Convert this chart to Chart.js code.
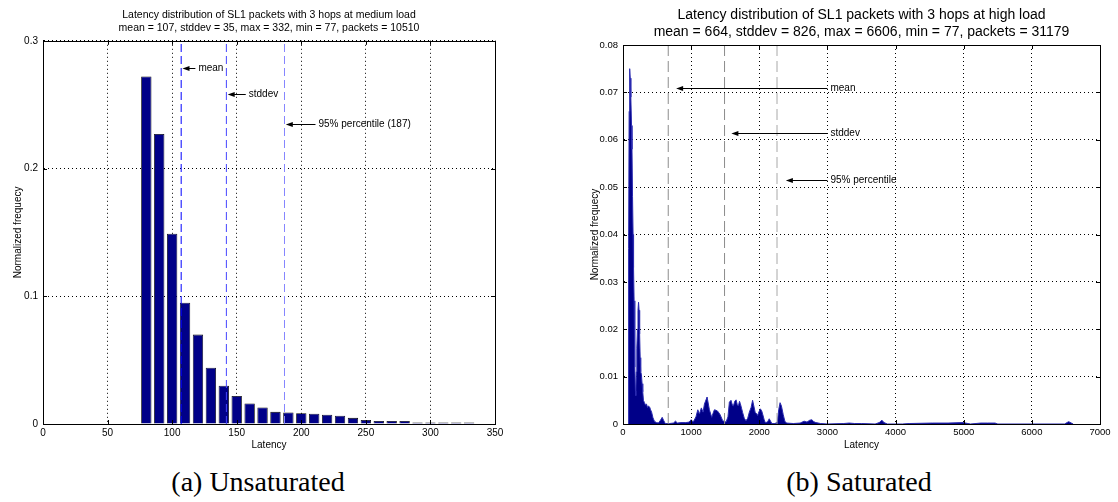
<!DOCTYPE html>
<html>
<head>
<meta charset="utf-8">
<script src="https://cdn.jsdelivr.net/npm/chart.js@4.4.1/dist/chart.umd.min.js"></script>
<style>
  body { margin: 0; background: #fff; width: 1118px; height: 502px; position: relative; overflow: hidden; }
  #medChart { position: absolute; left: 0; top: 0; }
  #highChart { position: absolute; left: 575px; top: 0; }
  .caption { position: absolute; top: 466px; width: 300px; text-align: center; line-height: 32px;
             font-family: 'Liberation Serif', 'DejaVu Serif', serif; font-size: 28px; color: #000; }
</style>
</head>
<body>
<canvas id="medChart" width="570" height="460"></canvas>
<canvas id="highChart" width="543" height="460"></canvas>
<div class="caption" style="left:108px">(a) Unsaturated</div>
<div class="caption" style="left:709px">(b) Saturated</div>
<script>
// (a) medium load histogram, bin centres and normalized frequency
const medBins = [80, 90, 100, 110, 120, 130, 140, 150, 160, 170, 180, 190, 200,
                 210, 220, 230, 240, 250, 260, 270, 280, 290, 300, 310, 320, 330];
const medFreq = [0.272, 0.227, 0.149, 0.095, 0.070, 0.044, 0.030, 0.022, 0.016, 0.013, 0.0095, 0.009, 0.0085,
                 0.008, 0.0073, 0.0065, 0.0048, 0.0031, 0.0023, 0.0023, 0.0023, 0.0012, 0.0012, 0.0012, 0.0012, 0.0012];
const medMarkX = [107, 142, 187];
const medMarkY = [0.279, 0.258, 0.2345];
const medArrowEnd = [118, 157, 211];
const medMarkLabels = ['mean', 'stddev', '95% percentile (187)'];
const medMarkColors = ['#0000ff', '#4646ff', '#8585ff'];

// (b) high load distribution
const highLatency = [77, 82, 90, 98, 106, 115, 125, 132, 140, 148, 155, 163, 170, 176, 182, 188, 195, 203, 212, 220,
  228, 236, 244, 252, 260, 270, 280, 290, 300, 315, 330, 345, 360, 375, 390, 405, 420, 440, 460, 490,
  520, 550, 575, 595, 620, 680, 740, 770, 800, 850, 920, 970, 1000, 1030, 1070, 1098, 1122, 1150, 1175, 1195,
  1234, 1268, 1302, 1320, 1341, 1365, 1390, 1424, 1463, 1512, 1540, 1561, 1585, 1605, 1620, 1640, 1659, 1677, 1693, 1710,
  1722, 1740, 1756, 1780, 1805, 1830, 1854, 1880, 1902, 1920, 1941, 1960, 1976, 1995, 2015, 2035, 2049, 2070, 2088, 2120,
  2146, 2165, 2185, 2230, 2265, 2285, 2305, 2325, 2351, 2375, 2400, 2500, 2600, 2658, 2700, 2740, 2771, 2800, 2830, 2900,
  3000, 3240, 3320, 3400, 3500, 3700, 3760, 3800, 3830, 3880, 4100, 4200, 4540, 4770, 4990, 5100, 5250, 5350, 5460, 5500,
  6480, 6540, 6580, 6606];
const highFreq = [0, 0.037, 0.066, 0.075, 0.073, 0.069, 0.063, 0.058, 0.048, 0.040, 0.033, 0.026, 0.019, 0.012, 0.007, 0.006, 0.011, 0.016, 0.020, 0.024,
  0.0257, 0.024, 0.019, 0.014, 0.011, 0.0105, 0.0085, 0.0068, 0.005, 0.0045, 0.004, 0.0042, 0.0035, 0.0038, 0.0036, 0.003, 0.0025, 0.0013, 0.0006, 0.0003,
  0.0002, 0.0008, 0.0014, 0.0008, 0.0001, 0.0001, 0.0002, 0.0006, 0.0002, 0.0003, 0.0003, 0.0004, 0.0009, 0.0004, 0.0015, 0.003, 0.0021, 0.0034, 0.0025, 0.0042,
  0.0057, 0.003, 0.0014, 0.0022, 0.003, 0.0029, 0.0027, 0.002, 0.0007, 0.0004, 0.0015, 0.0046, 0.005, 0.004, 0.0038, 0.0048, 0.0051, 0.0041, 0.0038, 0.0048,
  0.0043, 0.0033, 0.0024, 0.0012, 0.0007, 0.0012, 0.0025, 0.0035, 0.005, 0.0038, 0.0024, 0.0022, 0.0018, 0.0026, 0.0032, 0.0028, 0.0021, 0.001, 0.0003, 0.0004,
  0.0011, 0.0006, 0.0001, 0.0001, 0.0004, 0.003, 0.0045, 0.0038, 0.002, 0.0006, 0.0002, 0.0001, 0.0002, 0.0006, 0.0004, 0.0008, 0.0009, 0.0005, 0.0003, 0.0001,
  0, 0.0001, 0.0002, 0.0001, 0.0001, 0, 0.0003, 0.0008, 0.0003, 0, 0, 0.0001, 0.0002, 0.0002, 0.0003, 0, 0.0002, 0.0002, 0.0002, 0,
  0, 0.0005, 0.0002, 0];
const highMarkX = [664, 1490, 2260];
const highMarkY = [0.071, 0.0615, 0.0515];
const highArrowTip = [780, 1590, 2390];
const highArrowTail = [3000, 3000, 3000];
const highMarkLabels = ['mean', 'stddev', '95% percentile'];

Chart.defaults.font.family = "'Liberation Sans', Arial, Helvetica, sans-serif";
Chart.defaults.color = '#000';

// box round the axes plus matlab style inward ticks
const frame = {
  id: 'frame',
  afterDraw(chart) {
    const { ctx, chartArea: a, scales } = chart;
    ctx.save();
    ctx.strokeStyle = '#000';
    ctx.lineWidth = 1;
    ctx.setLineDash([]);
    ctx.beginPath();
    scales.x.ticks.forEach(t => {
      const px = Math.round(scales.x.getPixelForValue(t.value)) + 0.5;
      ctx.moveTo(px, a.bottom); ctx.lineTo(px, a.bottom - 4);
      ctx.moveTo(px, a.top); ctx.lineTo(px, a.top + 4);
    });
    scales.y.ticks.forEach(t => {
      const py = Math.round(scales.y.getPixelForValue(t.value)) + 0.5;
      ctx.moveTo(a.left, py); ctx.lineTo(a.left + 4, py);
      ctx.moveTo(a.right, py); ctx.lineTo(a.right - 4, py);
    });
    ctx.stroke();
    ctx.strokeRect(Math.round(a.left) + 0.5, Math.round(a.top) + 0.5,
                   Math.round(a.right - a.left), Math.round(a.bottom - a.top));
    ctx.restore();
  }
};

// arrows with labels pointing at the marker lines
const arrows = {
  id: 'arrows',
  afterDatasetsDraw(chart, args, opts) {
    if (!opts.labels) return;
    const { ctx, scales: { x, y } } = chart;
    ctx.save();
    ctx.strokeStyle = '#000';
    ctx.fillStyle = '#000';
    ctx.lineWidth = 1;
    ctx.setLineDash([]);
    ctx.font = opts.font;
    ctx.textBaseline = 'middle';
    opts.labels.forEach((label, i) => {
      const x0 = x.getPixelForValue(opts.tips[i]);
      const x1 = x.getPixelForValue(opts.tails[i]);
      const py = Math.round(y.getPixelForValue(opts.ys[i])) + 0.5;
      ctx.beginPath();
      ctx.moveTo(x0 + 5, py);
      ctx.lineTo(x1, py);
      ctx.stroke();
      ctx.beginPath();
      ctx.moveTo(x0, py);
      ctx.lineTo(x0 + 7, py - 2.5);
      ctx.lineTo(x0 + 7, py + 2.5);
      ctx.closePath();
      ctx.fill();
      ctx.fillText(label, x1 + opts.gap, py);
    });
    ctx.restore();
  }
};

function markerSets(xs, top, colors, dash) {
  return xs.map((v, i) => ({
    type: 'line',
    data: [{ x: v, y: 0 }, { x: v, y: top }],
    borderColor: colors[i],
    borderWidth: 1,
    borderDash: dash,
    pointRadius: 0,
    fill: false,
    order: 0
  }));
}

new Chart(document.getElementById('medChart'), {
  type: 'bar',
  data: {
    datasets: [{
      data: medBins.map((b, i) => ({ x: b, y: medFreq[i] })),
      backgroundColor: '#000088',
      borderColor: '#000',
      borderWidth: 0.8,
      categoryPercentage: 1,
      barPercentage: 0.8,
      order: 1
    }].concat(markerSets(medMarkX, 0.3, medMarkColors, [8, 4]))
  },
  options: {
    responsive: false,
    animation: false,
    devicePixelRatio: 1,
    layout: { padding: { right: 75 } },
    plugins: {
      legend: { display: false },
      tooltip: { enabled: false },
      title: {
        display: true,
        fullSize: false,
        text: ['Latency distribution of SL1 packets with 3 hops at medium load',
               'mean = 107, stddev = 35, max = 332, min = 77, packets = 10510'],
        font: { size: 10.5, weight: 'normal', lineHeight: 1.3 },
        padding: { top: 8, bottom: 5.5 }
      },
      arrows: {
        tips: medMarkX.map(v => v + 1),
        tails: medArrowEnd,
        ys: medMarkY,
        labels: medMarkLabels,
        font: "10px 'Liberation Sans', Arial, sans-serif",
        gap: 3
      }
    },
    scales: {
      x: {
        type: 'linear',
        min: 0,
        max: 350,
        offset: false,
        afterFit: s => { s.height = 36; },
        ticks: { stepSize: 50, padding: 3, font: { size: 10 }, maxRotation: 0 },
        grid: { color: '#000', drawTicks: false, offset: false },
        border: { dash: [1, 3], color: '#000' },
        title: { display: true, text: 'Latency', font: { size: 10 }, padding: { top: 0, bottom: 9 } }
      },
      y: {
        min: 0,
        max: 0.3,
        afterFit: s => { s.width = 43; },
        ticks: { stepSize: 0.1, padding: 5, font: { size: 10 } },
        grid: { color: '#000', drawTicks: false },
        border: { dash: [1, 3], color: '#000' },
        title: { display: true, text: 'Normalized frequecy', font: { size: 10 }, padding: { top: 12, bottom: 0 } }
      }
    }
  },
  plugins: [frame, arrows]
});

new Chart(document.getElementById('highChart'), {
  type: 'line',
  data: {
    datasets: [{
      data: highLatency.map((v, i) => ({ x: v, y: highFreq[i] })),
      backgroundColor: '#000088',
      borderColor: '#2a2ab0',
      borderWidth: 1,
      pointRadius: 0,
      tension: 0,
      fill: 'origin',
      order: 1
    }].concat(markerSets(highMarkX, 0.08, ['#8c8c8c', '#8c8c8c', '#a8a8a8'], [11, 5]))
  },
  options: {
    responsive: false,
    animation: false,
    devicePixelRatio: 1,
    layout: { padding: { right: 18 } },
    plugins: {
      legend: { display: false },
      tooltip: { enabled: false },
      title: {
        display: true,
        fullSize: false,
        text: ['Latency distribution of SL1 packets with 3 hops at high load',
               'mean = 664, stddev = 826, max = 6606, min = 77, packets = 31179'],
        font: { size: 14, weight: 'normal', lineHeight: 1.2 },
        padding: { top: 6.6, bottom: 4.8 }
      },
      arrows: {
        tips: highArrowTip,
        tails: highArrowTail,
        ys: highMarkY,
        labels: highMarkLabels,
        font: "10px 'Liberation Sans', Arial, sans-serif",
        gap: 3
      }
    },
    scales: {
      x: {
        type: 'linear',
        min: 0,
        max: 7000,
        afterFit: s => { s.height = 36; },
        ticks: { stepSize: 1000, padding: 3, font: { size: 9.5 }, maxRotation: 0, callback: v => String(v) },
        grid: { color: '#000', drawTicks: false },
        border: { dash: [1, 3], color: '#000' },
        title: { display: true, text: 'Latency', font: { size: 10 }, padding: { top: 0, bottom: 9 } }
      },
      y: {
        min: 0,
        max: 0.08,
        afterFit: s => { s.width = 48; },
        ticks: { stepSize: 0.01, padding: 5, font: { size: 9.5 } },
        grid: { color: '#000', drawTicks: false },
        border: { dash: [1, 3], color: '#000' },
        title: { display: true, text: 'Normalized frequecy', font: { size: 10 }, padding: { top: 14, bottom: 0 } }
      }
    }
  },
  plugins: [frame, arrows]
});
</script>
</body>
</html>
